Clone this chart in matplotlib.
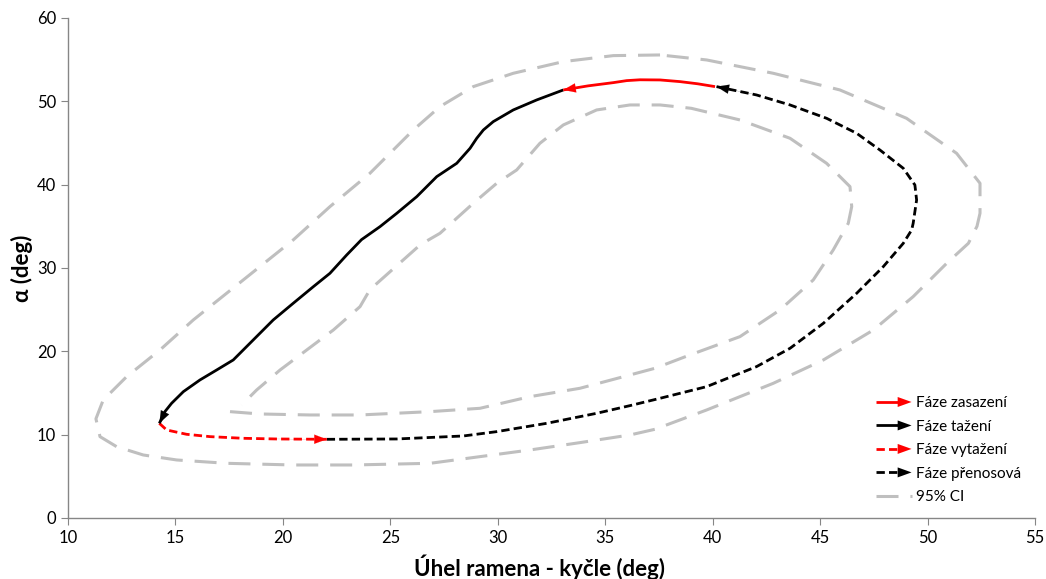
import matplotlib
matplotlib.use("Agg")
import matplotlib.pyplot as plt
from matplotlib.lines import Line2D
from matplotlib.patches import Polygon
from matplotlib.legend_handler import HandlerBase

plt.rcParams["font.family"] = ["Lato", "DejaVu Sans"]

# Fáze zasazení (red, solid)
zas_x = [40.11, 39.3, 38.48, 37.55, 36.62, 36.0, 35.38, 34.2, 33.05]
zas_y = [51.76, 52.1, 52.36, 52.56, 52.58, 52.48, 52.24, 51.85, 51.36]

# Fáze tažení (black, solid)
taz_x = [33.05, 31.81, 30.72, 29.79, 29.33, 29.02, 28.71, 28.09, 27.16, 26.85,
         26.23, 25.30, 24.52, 23.66, 22.97, 22.19, 21.42, 20.48, 19.55, 18.62,
         17.69, 16.92, 16.14, 15.37, 14.82, 14.51, 14.33, 14.25]
taz_y = [51.36, 50.16, 48.96, 47.56, 46.56, 45.56, 44.36, 42.56, 40.96, 40.16,
         38.56, 36.56, 34.96, 33.40, 31.56, 29.36, 27.76, 25.76, 23.76, 21.36,
         18.96, 17.76, 16.56, 15.16, 13.76, 12.76, 11.76, 11.36]

# Fáze vytažení (red, dashed)
vyt_x = [14.25, 14.59, 15.52, 16.61, 18.16, 19.71, 22.04]
vyt_y = [11.36, 10.56, 10.04, 9.76, 9.56, 9.48, 9.44]

# Fáze přenosová (black, dashed)
pre_x = [22.04, 25.3, 28.4, 29.95, 32.28, 34.6, 36.15, 37.55, 39.72, 42.04,
         43.6, 45.15, 46.7, 47.94, 48.87, 49.26, 49.33, 49.49, 49.41, 48.87,
         47.78, 46.70, 45.30, 43.60, 42.04, 40.18]
pre_y = [9.44, 9.48, 9.84, 10.36, 11.36, 12.56, 13.48, 14.36, 15.76, 18.16,
         20.36, 23.36, 26.96, 30.16, 32.96, 34.56, 35.36, 38.16, 39.96, 41.96,
         44.16, 46.16, 47.96, 49.56, 50.76, 51.76]

# 95% CI, outer bound
ci_out_x = [37.55, 35.38, 33.05, 30.72, 28.86, 27.31, 26.07, 24.05, 22.19, 20.48,
            18.93, 17.38, 15.83, 14.28, 12.73, 11.64, 11.3, 11.49, 12.26, 13.50,
            15.06, 17.38, 20.48, 23.28, 26.85, 29.17, 31.5, 33.82, 36.15, 37.31,
            39.72, 42.82, 45.15, 47.48, 49.33, 50.89, 51.9, 52.3, 52.44, 52.44,
            51.35, 49.02, 45.92, 42.82, 39.72, 37.55]
ci_out_y = [55.56, 55.48, 54.76, 53.36, 51.76, 49.36, 46.56, 41.36, 37.36, 33.36,
            30.16, 26.96, 23.76, 20.16, 16.96, 14.16, 11.9, 9.76, 8.56, 7.56,
            6.96, 6.56, 6.36, 6.36, 6.56, 7.36, 8.16, 9.04, 9.96, 10.64,
            12.96, 16.16, 18.96, 22.56, 26.56, 30.56, 32.96, 35.0, 36.56, 40.16,
            43.76, 47.96, 51.36, 53.36, 54.96, 55.56]

# 95% CI, inner bound
ci_in_x = [17.54, 18.93, 21.26, 23.59, 26.85, 29.17, 31.5, 33.82, 36.15, 37.31,
           38.94, 41.27, 43.13, 44.68, 45.61, 46.31, 46.47, 46.39, 45.30, 43.6,
           41.27, 39.0, 37.55, 36.15, 34.60, 33.05, 31.96, 30.88, 29.95, 28.86,
           27.31, 26.4, 24.05, 23.59, 22.35, 21.11, 19.87, 18.78, 18.08]
ci_in_y = [12.76, 12.48, 12.36, 12.36, 12.76, 13.16, 14.56, 15.56, 17.16, 17.96,
           19.56, 21.76, 24.96, 28.56, 32.16, 35.36, 37.36, 39.76, 42.56, 45.56,
           47.76, 49.16, 49.56, 49.56, 48.96, 47.16, 44.96, 41.76, 40.16, 37.76,
           34.16, 32.8, 27.4, 25.36, 22.56, 20.16, 17.76, 15.36, 13.56]

labels = ["Fáze zasazení", "Fáze tažení", "Fáze vytažení", "Fáze přenosová", "95% CI"]

RED = "#ff0000"
BLACK = "#000000"
GRAY = "#bfbfbf"
CI_DASH = (0, (7.2, 3.9))
SHORT_DASH = (0, (3, 1.5))


def draw_phase(ax, xs, ys, color, ls):
    ax.plot(xs, ys, color=color, lw=2, linestyle=ls, solid_capstyle="butt",
            solid_joinstyle="round")
    # arrow head at the end of the series (Excel "line end" arrow)
    ax.annotate("", xy=(xs[-1], ys[-1]), xytext=(xs[-2], ys[-2]),
                arrowprops=dict(arrowstyle="-|>,head_length=0.8,head_width=0.3",
                                color=color, lw=0.1, shrinkA=0, shrinkB=0,
                                mutation_scale=11))


class ArrowLineHandler(HandlerBase):
    def __init__(self, color, ls, arrow=True, lw=2):
        super().__init__()
        self.color, self.ls, self.arrow, self.lw = color, ls, arrow, lw

    def create_artists(self, legend, orig_handle, xdescent, ydescent, width,
                       height, fontsize, trans):
        y = height / 2 - ydescent
        x0, x1 = -xdescent, width - xdescent
        head = 9 if self.arrow else 0
        line = Line2D([x0, x1 - head], [y, y], color=self.color, lw=self.lw,
                      linestyle=self.ls, transform=trans, solid_capstyle="butt")
        artists = [line]
        if self.arrow:
            tri = Polygon([[x1 - head - 1, y - 3.6], [x1, y], [x1 - head - 1, y + 3.6]],
                          closed=True, facecolor=self.color, edgecolor="none",
                          transform=trans)
            artists.append(tri)
        return artists


fig = plt.figure(figsize=(10.46, 5.79), dpi=100)
ax = fig.add_axes([0.065, 0.1054, 0.9245, 0.8636])

ax.plot(ci_out_x, ci_out_y, color=GRAY, lw=2.2, linestyle=CI_DASH)
ax.plot(ci_in_x, ci_in_y, color=GRAY, lw=2.2, linestyle=CI_DASH)

draw_phase(ax, pre_x, pre_y, BLACK, SHORT_DASH)
draw_phase(ax, vyt_x, vyt_y, RED, SHORT_DASH)
draw_phase(ax, taz_x, taz_y, BLACK, "-")
draw_phase(ax, zas_x, zas_y, RED, "-")

ax.set_xlim(10, 55)
ax.set_ylim(0, 60)
ax.set_xticks(range(10, 56, 5))
ax.set_yticks(range(0, 61, 10))
for s in ["top", "right"]:
    ax.spines[s].set_visible(False)
for s in ["left", "bottom"]:
    ax.spines[s].set_color("#868686")
    ax.spines[s].set_linewidth(1)
ax.tick_params(colors="#868686", labelcolor="black", labelsize=12, length=5)

ax.set_xlabel("Úhel ramena - kyčle (deg)", fontsize=16, fontweight="bold", labelpad=6)
ax.xaxis.label.set_x(0.488)
ax.set_ylabel("α (deg)", fontsize=16, fontweight="bold", labelpad=3)

keys = [object() for _ in labels]
handler_map = {
    keys[0]: ArrowLineHandler(RED, "-"),
    keys[1]: ArrowLineHandler(BLACK, "-"),
    keys[2]: ArrowLineHandler(RED, SHORT_DASH),
    keys[3]: ArrowLineHandler(BLACK, SHORT_DASH),
    keys[4]: ArrowLineHandler(GRAY, CI_DASH, arrow=False, lw=2.2),
}
ax.legend(keys, labels, handler_map=handler_map, loc="lower right",
          bbox_to_anchor=(1.0, 0.0), frameon=False, fontsize=11,
          handlelength=2.3, handletextpad=0.3, labelspacing=0.62)

fig.savefig("out.png", dpi=100)
